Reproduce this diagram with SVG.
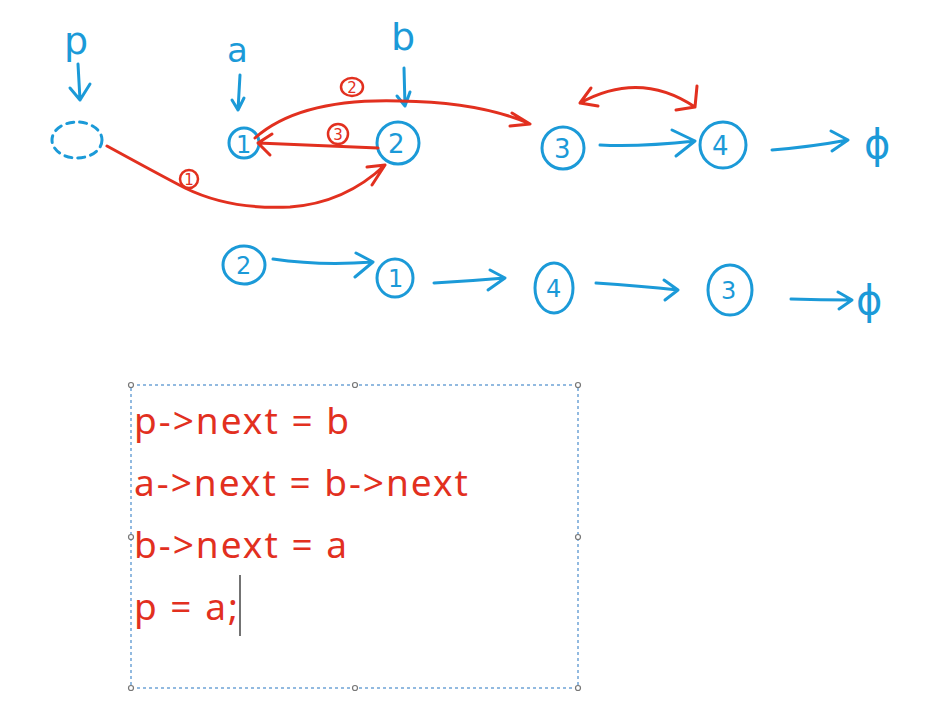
<svg xmlns="http://www.w3.org/2000/svg" width="952" height="713" viewBox="0 0 952 713">
<style>
.b{fill:none;stroke:#1b9ad8;stroke-width:3;stroke-linecap:round;stroke-linejoin:round}
.r{fill:none;stroke:#e2301f;stroke-width:3;stroke-linecap:round;stroke-linejoin:round}
.rc{fill:none;stroke:#e2301f;stroke-width:2.5}
.bt{fill:#1b9ad8;font-family:"DejaVu Sans",sans-serif}
.rt{fill:#e2301f;font-family:"DejaVu Sans",sans-serif;font-size:15px;text-anchor:middle}
.code{fill:#e2301f;font-family:"Noto Sans","Open Sans",sans-serif;font-size:37px;letter-spacing:2px}
.h{fill:#fff;stroke:#777;stroke-width:1.2}
</style>
<rect width="952" height="713" fill="#fff"/>
<g id="p">
<text class="bt" x="64" y="54" font-size="38">p</text>
<path class="b" d="M78 64 L80 100 M70 88 L80 100 L90 84"/>
</g>
<g id="pnode">
<ellipse cx="77" cy="140" rx="25" ry="18" class="b" stroke-dasharray="7 6"/>
</g>
<g id="a">
<text class="bt" x="227" y="62" font-size="34">a</text>
<path class="b" d="M240 75 L238 110 M232 100 L238 110 L244 98"/>
</g>
<g id="n1">
<circle cx="244" cy="143" r="15" class="b"/>
<text class="bt" x="236" y="153" font-size="24">1</text>
</g>
<g id="b">
<text class="bt" x="391" y="50" font-size="38">b</text>
<path class="b" d="M404 68 L405 106 M397 96 L405 106 L410 92"/>
</g>
<g id="n2">
<circle cx="398" cy="143" r="21" class="b"/>
<text class="bt" x="388" y="153" font-size="26">2</text>
</g>
<g id="n3">
<circle cx="563" cy="148" r="21" class="b"/>
<text class="bt" x="554" y="158" font-size="26">3</text>
</g>
<g id="n4">
<circle cx="723" cy="145" r="23" class="b"/>
<text class="bt" x="712" y="155" font-size="26">4</text>
</g>
<g id="null1">
<text class="bt" x="864" y="158" font-size="40">ϕ</text>
</g>
<g id="r2n2">
<ellipse cx="244" cy="265" rx="21" ry="19" class="b"/>
<text class="bt" x="236" y="274" font-size="24">2</text>
</g>
<g id="r2n1">
<ellipse cx="395" cy="278" rx="18" ry="19" class="b"/>
<text class="bt" x="388" y="287" font-size="24">1</text>
</g>
<g id="r2n4">
<ellipse cx="554" cy="288" rx="19" ry="25" class="b"/>
<text class="bt" x="546" y="297" font-size="24">4</text>
</g>
<g id="r2n3">
<ellipse cx="730" cy="290" rx="22" ry="25" class="b"/>
<text class="bt" x="721" y="299" font-size="24">3</text>
</g>
<g id="null2">
<text class="bt" x="856" y="314" font-size="40">ϕ</text>
</g>
<g id="connectors">
<path class="b" d="M600 145 Q640 147 695 141 M672 130 L695 141 L676 156"/>
<path class="b" d="M772 150 Q810 147 848 140 M831 131 L848 140 L832 151"/>
<path class="b" d="M273 259 Q320 266 373 262 M356 253 L373 262 L355 277"/>
<path class="b" d="M434 283 Q470 281 505 278 M490 270 L505 278 L488 290"/>
<path class="b" d="M596 283 Q640 286 678 290 M664 280 L678 290 L665 300"/>
<path class="b" d="M791 299 Q820 300 852 300 M838 292 L852 300 L839 309"/>
<path class="r" d="M107 146 Q160 175 185 188 Q230 210 290 207 Q345 203 385 165 M367 167 L385 165 L372 185"/>
<ellipse class="rc" cx="189" cy="179" rx="9" ry="9"/>
<text class="rt" x="189" y="185">1</text>
<path class="r" d="M255 138 Q300 98 400 101 Q480 102 530 124 M512 113 L530 124 L510 126"/>
<ellipse class="rc" cx="352" cy="87" rx="11" ry="9"/>
<text class="rt" x="352" y="93">2</text>
<path class="r" d="M378 148 L258 143 M272 134 L258 143 L270 155"/>
<ellipse class="rc" cx="338" cy="134" rx="10" ry="10"/>
<text class="rt" x="338" y="140">3</text>
<path class="r" d="M580 103 Q640 70 695 107 M591 88 L580 103 L598 106 M697 86 L695 107 L676 110"/>
</g>
<g id="textbox">
<rect x="131" y="385" width="447" height="303" fill="none" stroke="#6fa4d6" stroke-width="1.5" stroke-dasharray="3 3"/>
<circle class="h" cx="131" cy="385" r="2.5"/><circle class="h" cx="355" cy="385" r="2.5"/><circle class="h" cx="578" cy="385" r="2.5"/>
<circle class="h" cx="131" cy="537" r="2.5"/><circle class="h" cx="578" cy="537" r="2.5"/>
<circle class="h" cx="131" cy="688" r="2.5"/><circle class="h" cx="355" cy="688" r="2.5"/><circle class="h" cx="578" cy="688" r="2.5"/>
<text class="code" x="134" y="434">p-&gt;next = b</text>
<text class="code" x="134" y="496">a-&gt;next = b-&gt;next</text>
<text class="code" x="134" y="558">b-&gt;next = a</text>
<text class="code" x="134" y="620">p = a;</text>
<line x1="240" y1="575" x2="240" y2="636" stroke="#444" stroke-width="1.5"/>
</g>
</svg>
